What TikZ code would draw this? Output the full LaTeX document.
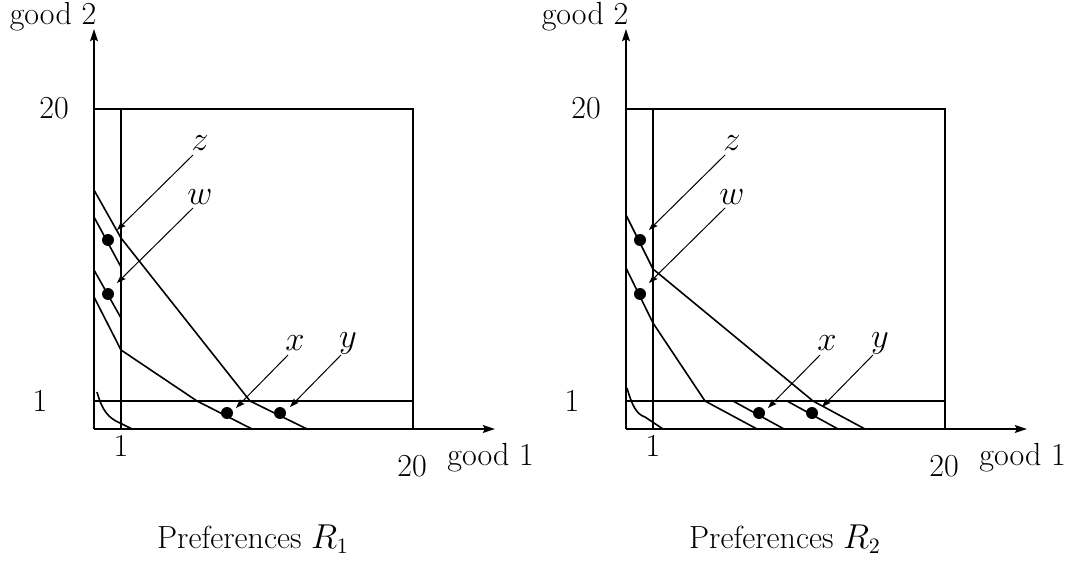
\documentclass[tikz,border=0pt]{standalone}
\usetikzlibrary{arrows.meta}
\begin{document}
\begin{tikzpicture}[x=0.5pt,y=-0.5pt,
  axis/.style={line width=1.3pt,-{Stealth[length=6pt,width=3.8pt,inset=1pt]}},
  frame/.style={line width=0.95pt},
  curve/.style={line width=0.8pt},
  pointer/.style={line width=0.5pt,-{Stealth[length=4.5pt,width=3.2pt,inset=0.8pt]}},
  dot/.style={circle,fill=black,inner sep=0pt,minimum size=6pt},
  lbl/.style={font=\fontsize{16}{19}\selectfont,inner sep=0pt}]
\useasboundingbox (0,0) rectangle (1072,567);
\foreach \p/\dx/\r in {L/0/1,R/532/2}{
\begin{scope}[shift={(\dx,0)}]
  \coordinate (\p o) at (94,429);
  \coordinate (\p xe) at (495,429);
  \coordinate (\p ye) at (94,29);
  \draw[axis] (\p o) -- (\p xe);
  \draw[axis] (\p o) -- (\p ye);
  \draw[frame] (94,109) -- (413,109) -- (413,429);
  \draw[frame] (121,109) -- (121,429);
  \draw[frame] (94,401) -- (413,401);
  \node[lbl] (\p g2) at (53,17) {good 2};
  \node[lbl] (\p t20) at (54,108) {20};
  \node[lbl] (\p t1) at (40,401) {1};
  \node[lbl] (\p b1) at (121,446) {1};
  \node[lbl] (\p b20) at (412,466) {20};
  \node[lbl,anchor=west] (\p g1) at (447,458) {good 1};
  \node[lbl] (\p pref) at (253,539) {Preferences $R_{\r}$};
  \node[dot] (\p dz) at (108,240) {};
  \node[dot] (\p dw) at (108,294) {};
  \node[dot] (\p dx) at (227,413) {};
  \node[dot] (\p dy) at (280,413) {};
  \node[lbl] (\p lz) at (200,143) {$z$};
  \node[lbl] (\p lw) at (200,197) {$w$};
  \node[lbl] (\p lx) at (295,343) {$x$};
  \node[lbl] (\p ly) at (348,343) {$y$};
  \coordinate (\p az) at (193,155); \coordinate (\p tz) at (117,230);
  \coordinate (\p aw) at (193,208); \coordinate (\p tw) at (117,283);
  \coordinate (\p ax) at (288,355); \coordinate (\p tx) at (236,408);
  \coordinate (\p ay) at (341,355); \coordinate (\p ty) at (290,407);
  \draw[pointer] (\p az) -- (\p tz);
  \draw[pointer] (\p aw) -- (\p tw);
  \draw[pointer] (\p ax) -- (\p tx);
  \draw[pointer] (\p ay) -- (\p ty);
\end{scope}}
% left panel indifference curves
\draw[curve] (94,190) -- (121,238) -- (250,401) -- (307,429);
\draw[curve] (94,217) -- (121,267);
\draw[curve] (94,270) -- (121,318);
\draw[curve] (94,297) -- (121,350) -- (197,401) -- (252,429);
\draw[curve] (97,392) .. controls (102,410) and (108,418) .. (120,423) -- (132,429);
% right panel indifference curves
\draw[curve] (626,215) -- (653,269) -- (813,401) -- (865,429);
\draw[curve] (626,268) -- (653,323) -- (705,401) -- (757,429);
\draw[curve] (733,401) -- (784,429);
\draw[curve] (787,401) -- (838,429);
\draw[curve] (627,388) .. controls (632,405) and (636,414) .. (645,417) -- (663,429);
\end{tikzpicture}
\end{document}
